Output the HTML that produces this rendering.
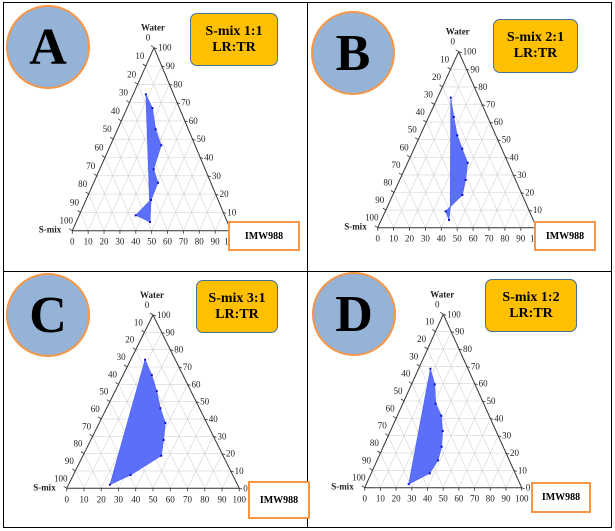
<!DOCTYPE html>
<html><head><meta charset="utf-8"><style>
body{margin:0;background:#fff;width:615px;height:531px;overflow:hidden;position:relative;font-family:"Liberation Serif",serif}
.line{position:absolute;background:#000}
.circ{position:absolute;width:84px;height:84px;border-radius:50%;background:#95B3D7;border:2px solid #F79646;box-sizing:border-box;display:flex;align-items:center;justify-content:center;font:bold 52px "Liberation Serif",serif;color:#000}
.ybox{position:absolute;background:#FFC000;border:1.5px solid #41719C;border-radius:7px;box-sizing:border-box;display:flex;align-items:center;justify-content:center;text-align:center;font:bold 14px/16px "Liberation Serif",serif}
.obox{position:absolute;background:#fff;border:2px solid #F79646;box-sizing:border-box;display:flex;align-items:center;justify-content:center;font:bold 10px "Liberation Serif",serif}
svg{position:absolute;left:0;top:0}
</style></head><body>
<svg id="chart" width="615" height="531"></svg>
<div class="line" style="left:3px;top:2px;width:609px;height:1px"></div>
<div class="line" style="left:3px;top:2px;width:1px;height:526px"></div>
<div class="line" style="left:611px;top:2px;width:1px;height:526px"></div>
<div class="line" style="left:3px;top:527px;width:609px;height:1px"></div>
<div class="line" style="left:307px;top:2px;width:1px;height:526px"></div>
<div class="line" style="left:3px;top:271px;width:609px;height:1px"></div>

<div class="circ" style="left:6px;top:5px">A</div>
<div class="circ" style="left:311px;top:11px">B</div>
<div class="circ" style="left:6px;top:273px">C</div>
<div class="circ" style="left:312px;top:272px">D</div>

<div class="ybox" style="left:190px;top:13px;width:88px;height:53px">S-mix 1:1<br>LR:TR</div>
<div class="ybox" style="left:493px;top:19px;width:85px;height:54px">S-mix 2:1<br>LR:TR</div>
<div class="ybox" style="left:196px;top:280px;width:82px;height:53px">S-mix 3:1<br>LR:TR</div>
<div class="ybox" style="left:485px;top:279px;width:92px;height:53px">S-mix 1:2<br>LR:TR</div>

<div class="obox" style="left:228px;top:221px;width:72px;height:30px">IMW988</div>
<div class="obox" style="left:534px;top:221px;width:62px;height:30px">IMW988</div>
<div class="obox" style="left:248px;top:481px;width:62px;height:38px">IMW988</div>
<div class="obox" style="left:531px;top:482px;width:60px;height:31px">IMW988</div>

<script>
// data: oil (IMW988) % and water %, per panel
const oilA=[8,16,24,32,34,40.5,41,46.5,35.6,40.3];
const waterA=[74.5,67,55.4,46.7,33.6,26.2,16.8,4.8,8.4,16.2];
const markA=[1,1,1,1,1,1,1,1,1,0];
const oilB=[8.3,15.8,23.3,30.3,37.8,41.5,43.8,39.1,38,42.6,40];
const waterB=[73.9,62.9,52.5,44.9,36.9,27.1,18.6,11.2,9.3,4.4,11];
const markB=[1,1,1,1,1,1,1,0,1,1,0];
const oilC=[8.3,16.6,24.1,31.2,38.3,42.2,45.4,33.2,24];
const waterC=[74.2,65.4,56.1,46.2,37.7,27.9,18.8,7.7,2.1];
const oilD=[7.5,14.8,21,28,33.3,37.2,38.8,37.3,27];
const waterD=[68.6,59.6,48.4,41.5,32.7,23.6,15.8,8.3,2];
const ticks=[0,10,20,30,40,50,60,70,80,90,100];

const panels=[
 {id:'a',L:[72.3,230.7],R:[231,230.7],T:[154,47.7],oil:oilA,water:waterA,mark:markA,hideRight0:true},
 {id:'b',L:[377.7,227.7],R:[536.7,227.7],T:[458.7,51.7],oil:oilB,water:waterB,mark:markB,hideRight0:true},
 {id:'c',L:[66.7,488.3],R:[239.3,488.3],T:[153,315],oil:oilC,water:waterC},
 {id:'d',L:[364.7,487.7],R:[521.7,487.7],T:[443.3,314.3],oil:oilD,water:waterD}
];
const svg=document.getElementById('chart');
const NS='http://www.w3.org/2000/svg';
function mk(tag,attrs,parent){const e=document.createElementNS(NS,tag);for(const k in attrs)e.setAttribute(k,attrs[k]);(parent||svg).appendChild(e);return e;}
function pos(p,a,w){a/=100;w/=100;return [p.L[0]+a*(p.R[0]-p.L[0])+w*(p.T[0]-p.L[0]),p.L[1]+a*(p.R[1]-p.L[1])+w*(p.T[1]-p.L[1])];}
function ln(g,p1,p2,st,sw){return mk('line',{x1:p1[0],y1:p1[1],x2:p2[0],y2:p2[1],stroke:st,'stroke-width':sw},g);}
function txt(g,x,y,s,anchor,bold){const t=mk('text',{x:x,y:y,'font-size':'9','font-family':'Liberation Serif, serif','text-anchor':anchor,'font-weight':bold?'bold':'normal',fill:'#222'},g);t.textContent=s;return t;}

panels.forEach(p=>{
 const g=mk('g',{});
 
 
 for(let v=10;v<100;v+=10){
  ln(g,pos(p,0,v),pos(p,100-v,v),'#d4d4d4',0.6);
  ln(g,pos(p,v,0),pos(p,v,100-v),'#d4d4d4',0.6);
  ln(g,pos(p,v,0),pos(p,0,v),'#d4d4d4',0.6);
 }
 const pts=p.oil.map((o,i)=>pos(p,o,p.water[i]));
 const poly=mk('polygon',{points:pts.map(q=>q.join(',')).join(' '),fill:'#5b6ffb',stroke:'#4c5ff0','stroke-width':0.6},g);
 
 
 pts.forEach((q,i)=>{
  if(p.mark&&!p.mark[i])return;
  const c=mk('rect',{x:q[0]-1,y:q[1]-1,width:2,height:2,fill:'#1010c0'},g);
  
  
 });
 ln(g,p.L,p.R,'#333',1);ln(g,p.L,p.T,'#333',1);ln(g,p.R,p.T,'#333',1);
 ticks.forEach(v=>{
  const b=pos(p,v,0);ln(g,b,[b[0],b[1]+3],'#333',0.8);
  txt(g,b[0],b[1]+14,String(v),'middle');
  const l=pos(p,0,100-v);ln(g,l,[l[0]-3,l[1]-2],'#333',0.8);
  txt(g,l[0]-6,l[1]-7,String(v),'middle');
  if(!(v===0&&p.hideRight0)){const r=pos(p,100-v,v);ln(g,r,[r[0]+3,r[1]+1],'#333',0.8);
  txt(g,r[0]+4,r[1]+3,String(v),'start');}
 });
 const wt=txt(g,p.T[0]-1,p.T[1]-17,'Water','middle',true);
 
 
 const st=txt(g,p.L[0]-11,p.L[1]+2,'S-mix','end',true);
 
 
});
</script>
</body></html>
